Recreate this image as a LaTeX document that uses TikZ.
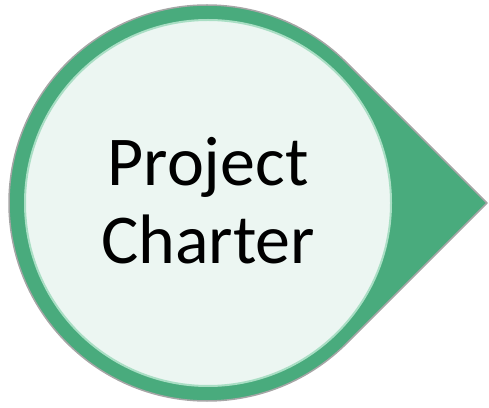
\documentclass[tikz,border=0pt]{standalone}
\usepackage{fontspec}
\setmainfont{Carlito}
\usetikzlibrary{calc}
\definecolor{chartergreen}{HTML}{49AB7D}
\definecolor{charterfill}{HTML}{ECF6F2}
\definecolor{charterrim}{HTML}{A9DEC4}
\definecolor{charteredge}{HTML}{A6A6A6}
\begin{document}
\begin{tikzpicture}[
        x=1pt, y=1pt,
        pin/.style={draw=charteredge, line width=1.5pt, fill=chartergreen, line join=round},
        disc/.style={circle, draw=charterrim, line width=2pt, fill=charterfill, minimum size=366pt, inner sep=0pt},
        label/.style={align=center, font=\fontsize{70}{78}\selectfont}
    ]
        \useasboundingbox (0,0) rectangle (489,407);
        % outer pointer shape
        \coordinate (tip) at (487,204);
        \coordinate (mid) at (207,204);
        \draw[pin] (tip) -- ($(mid)+(45:198)$) arc (45:315:198) -- cycle;
        
        \node[disc] (inner) at (208,204) {};
        \node[label, anchor=base] (title) at (208,144) {Project\\Charter};
    \end{tikzpicture}
\end{document}
